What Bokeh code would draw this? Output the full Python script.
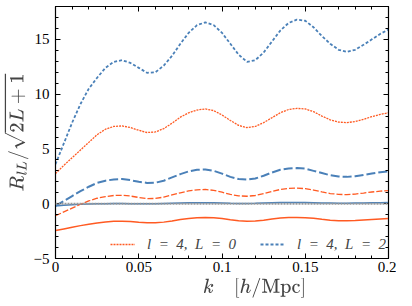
from bokeh.plotting import figure
from bokeh.models import LinearAxis, Legend, LegendItem, FixedTicker, Span
from bokeh.embed import file_html
from bokeh.resources import INLINE

k = [0.000, 0.005, 0.010, 0.015, 0.020, 0.025, 0.030, 0.035, 0.040, 0.045,
     0.050, 0.055, 0.060, 0.065, 0.070, 0.075, 0.080, 0.085, 0.090, 0.095,
     0.100, 0.105, 0.110, 0.115, 0.120, 0.125, 0.130, 0.135, 0.140, 0.145,
     0.150, 0.155, 0.160, 0.165, 0.170, 0.175, 0.180, 0.185, 0.190, 0.195, 0.200]

# l=4, L=2 (blue dotted)
r42_dot = [3.6, 5.5, 7.4, 9.1, 10.5, 11.5, 12.4, 12.95, 13.1, 12.85,
           12.4, 11.95, 12.0, 12.6, 13.5, 14.6, 15.6, 16.3, 16.55, 16.3,
           15.6, 14.6, 13.6, 12.95, 13.1, 13.8, 14.8, 15.8, 16.5, 16.8,
           16.7, 16.1, 15.3, 14.6, 14.05, 13.85, 14.05, 14.5, 15.0, 15.5, 15.9]
# l=4, L=0 (orange dotted)
r40_dot = [2.75, 3.5, 4.2, 4.9, 5.6, 6.3, 6.8, 7.05, 7.1, 6.95,
           6.7, 6.5, 6.55, 6.85, 7.35, 7.9, 8.3, 8.55, 8.65, 8.5,
           8.1, 7.6, 7.15, 6.95, 7.05, 7.4, 7.85, 8.3, 8.6, 8.7,
           8.65, 8.4, 8.0, 7.65, 7.45, 7.4, 7.5, 7.7, 7.95, 8.15, 8.3]
# blue dashed
b_dash = [-0.2, 0.25, 0.7, 1.15, 1.55, 1.9, 2.1, 2.22, 2.25, 2.15,
          2.0, 1.9, 1.92, 2.1, 2.4, 2.7, 2.95, 3.1, 3.12, 3.0,
          2.75, 2.45, 2.25, 2.2, 2.3, 2.55, 2.85, 3.1, 3.22, 3.25,
          3.2, 3.0, 2.8, 2.6, 2.48, 2.45, 2.5, 2.62, 2.75, 2.87, 2.95]
# orange dashed
o_dash = [-1.1, -0.75, -0.4, -0.05, 0.25, 0.5, 0.65, 0.75, 0.77, 0.7,
          0.57, 0.47, 0.48, 0.6, 0.8, 1.0, 1.17, 1.27, 1.3, 1.22,
          1.05, 0.85, 0.72, 0.68, 0.75, 0.92, 1.12, 1.3, 1.4, 1.42,
          1.38, 1.25, 1.08, 0.93, 0.85, 0.83, 0.88, 0.97, 1.07, 1.15, 1.2]
# blue solid
b_solid = [-0.2, -0.15, -0.1, -0.06, -0.03, -0.01, 0.0, 0.01, 0.01, 0.0,
           -0.01, -0.01, 0.0, 0.02, 0.04, 0.06, 0.08, 0.09, 0.09, 0.08,
           0.06, 0.04, 0.03, 0.03, 0.04, 0.06, 0.08, 0.1, 0.11, 0.11,
           0.1, 0.09, 0.07, 0.06, 0.05, 0.05, 0.06, 0.07, 0.08, 0.09, 0.1]
# orange solid
o_solid = [-2.45, -2.3, -2.15, -2.0, -1.87, -1.75, -1.66, -1.61, -1.6, -1.63,
           -1.69, -1.74, -1.74, -1.68, -1.57, -1.45, -1.35, -1.28, -1.25, -1.28,
           -1.36, -1.46, -1.55, -1.6, -1.58, -1.5, -1.4, -1.31, -1.26, -1.25,
           -1.27, -1.33, -1.42, -1.5, -1.55, -1.56, -1.53, -1.48, -1.43, -1.39, -1.36]

x_ticks = [0, 0.05, 0.1, 0.15, 0.2]
x_tick_labels = ["0", "0.05", "0.1", "0.15", "0.2"]
y_ticks = [-5, 0, 5, 10, 15]
legend_labels = ["l\u2002=\u20024,\u2002L\u2002=\u20020",
                 "l\u2002=\u20024,\u2002L\u2002=\u20022"]

BLUE = "#4a80b8"
ORANGE = "#ff5a22"
FONT = "Liberation Serif"

p = figure(width=396, height=300, output_backend="svg", toolbar_location=None,
           x_range=(0, 0.2), y_range=(-5, 18),
           min_border_left=51, min_border_right=8, min_border_top=6, min_border_bottom=38)
p.grid.visible = False
p.outline_line_color = "black"
p.outline_line_width = 1.2
p.background_fill_color = "white"

p.add_layout(Span(location=0, dimension="width", line_color="#999999",
                  line_dash="2 1", line_width=2))

p.line(k, o_solid, line_color=ORANGE, line_width=1.5)
p.line(k, b_solid, line_color=BLUE, line_width=1.5)
p.line(k, o_dash, line_color=ORANGE, line_width=1.3, line_dash="6 2")
p.line(k, b_dash, line_color=BLUE, line_width=2, line_dash="9 3")
r1 = p.line(k, r40_dot, line_color=ORANGE, line_width=1.3, line_dash="2 1")
r2 = p.line(k, r42_dot, line_color=BLUE, line_width=1.8, line_dash="3 2")

legend = Legend(items=[LegendItem(label=legend_labels[0], renderers=[r1]),
                       LegendItem(label=legend_labels[1], renderers=[r2])],
                orientation="horizontal", location=(55, 4),
                border_line_color=None, background_fill_alpha=0,
                label_text_font=FONT, label_text_font_style="italic",
                label_text_font_size="15px", glyph_width=25, spacing=24,
                margin=0, padding=5, label_standoff=12)
p.add_layout(legend)

def style_axis(ax, labels=True):
    ax.major_tick_in = 5
    ax.major_tick_out = 0
    ax.minor_tick_in = 3
    ax.minor_tick_out = 0
    ax.axis_line_color = "black"
    ax.major_tick_line_color = "black"
    ax.minor_tick_line_color = "black"
    ax.major_label_text_font = FONT
    ax.major_label_text_font_size = "15px"
    ax.major_label_text_color = "black" if labels else None
    if not labels:
        ax.major_label_standoff = 0

bottom = p.xaxis[0]
left = p.yaxis[0]
bottom.ticker = FixedTicker(ticks=x_ticks, minor_ticks=[i * 0.01 for i in range(21)])
left.ticker = FixedTicker(ticks=y_ticks, minor_ticks=list(range(-5, 19)))
bottom.major_label_overrides = {t: s for t, s in zip(x_ticks, x_tick_labels)}
left.major_label_overrides = {t: ("\u2212" + str(-t) if t < 0 else str(t)) for t in y_ticks}
style_axis(bottom)
style_axis(left)
bottom.major_label_standoff = 3
left.major_label_standoff = 6

top = LinearAxis(ticker=FixedTicker(ticks=x_ticks, minor_ticks=[i * 0.01 for i in range(21)]))
right = LinearAxis(ticker=FixedTicker(ticks=y_ticks, minor_ticks=list(range(-5, 19))))
style_axis(top, False)
style_axis(right, False)
p.add_layout(top, "above")
p.add_layout(right, "right")

bottom.axis_label = r"$$\hspace{3.2em}k \quad [h/\mathrm{Mpc}]$$"
left.axis_label = r"$$R_{lL}/\sqrt{2L+1}$$"
bottom.axis_label_text_font_size = "17px"
left.axis_label_text_font_size = "16px"
bottom.axis_label_standoff = 3
left.axis_label_standoff = 2

open("out.html", "w").write(file_html(p, INLINE))
